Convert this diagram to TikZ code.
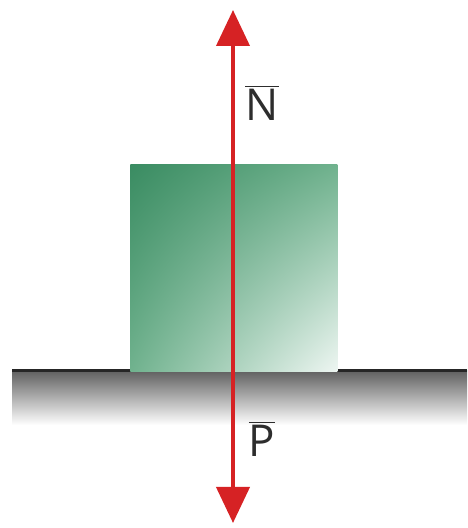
\documentclass[tikz,border=0pt]{standalone}
\usepackage{fontspec}
\setmainfont{Open Sans}
\usetikzlibrary{arrows.meta, positioning, shadings}
\definecolor{blockdark}{RGB}{58,140,98}
\definecolor{blockmid}{RGB}{112,178,142}
\definecolor{blocklight}{RGB}{238,246,242}
\definecolor{forcered}{RGB}{214,34,36}
\definecolor{labelgray}{RGB}{45,45,45}

\begin{document}
\begin{tikzpicture}[
    block/.style={minimum width=4.14cm, minimum height=4.14cm, inner sep=0pt, shade,
      upper left=blockdark, upper right=blockmid, lower left=blockmid, lower right=blocklight},
    force/.style={{Triangle[width=6.6mm, length=7.2mm]}-{Triangle[width=6.6mm, length=7.2mm]},
      line width=2.3pt, draw=forcered, fill=forcered},
    forcelabel/.style={text=labelgray, inner sep=0pt, font=\fontsize{25}{27}\selectfont}]
  \useasboundingbox (0,0) rectangle (9.34,10.56);
  % ground
  \shade[top color=black!62, bottom color=white] (0.24,2.06) rectangle (9.34,3.14);
  \draw[line width=1.6pt, black!85] (0.24,3.15) -- (9.34,3.15);
  % block on the ground
  \node[block, anchor=south west] (body) at (2.6,3.12) {};
  % forces
  \coordinate (Ntip) at (4.66,10.36);
  \coordinate (Ptip) at (4.66,0.10);
  \draw[force] (Ptip) -- (Ntip);
  \node[forcelabel] (N) at (5.24,8.5) {$\overline{\mbox{N}}$};
  \node[forcelabel] (P) at (5.24,1.78) {$\overline{\mbox{P}}$};
\end{tikzpicture}
\end{document}
